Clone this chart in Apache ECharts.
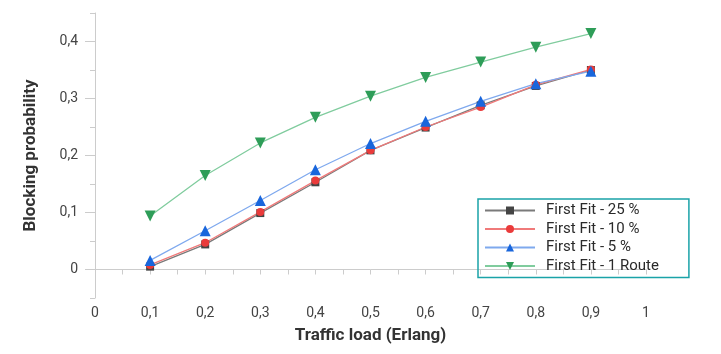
<!DOCTYPE html>
<html>
<head>
<meta charset="utf-8">
<script src="https://cdn.jsdelivr.net/npm/echarts@6/dist/echarts.min.js"></script>
<style>
  html, body { margin: 0; padding: 0; background: #fff; }
  #chart { width: 721px; height: 354px; }
</style>
</head>
<body>
<div id="chart"></div>
<script>
// 数据
var loads = [0.1, 0.2, 0.3, 0.4, 0.5, 0.6, 0.7, 0.8, 0.9];
var ff25 = [0.005, 0.044, 0.099, 0.153, 0.209, 0.249, 0.288, 0.322, 0.350];
var ff10 = [0.008, 0.047, 0.101, 0.156, 0.209, 0.250, 0.285, 0.324, 0.351];
var ff5 = [0.016, 0.068, 0.121, 0.175, 0.221, 0.260, 0.295, 0.326, 0.348];
var ff1route = [0.094, 0.165, 0.222, 0.267, 0.304, 0.337, 0.364, 0.390, 0.414];
var yLabels = [0, 0.1, 0.2, 0.3, 0.4];
var seriesNames = ['First Fit - 25 %', 'First Fit - 10 %', 'First Fit - 5 %', 'First Fit - 1 Route'];

function pairs(ys) {
	return loads.map(function (x, i) { return [x, ys[i]]; });
}

function comma(v) {
	return String(v).replace('.', ',');
}

var myChart = echarts.init(document.getElementById('chart'));

var option = {
	animation: false,
	textStyle: { fontFamily: 'Roboto' },
	grid: { left: 95, right: 75, top: 13, bottom: 56 },
	legend: {
		orient: 'vertical',
		left: 478,
		top: 199,
		padding: [4, 30, 4, 6],
		itemGap: 3.5,
		itemWidth: 50,
		itemHeight: 10,
		borderColor: '#1aa3a8',
		borderWidth: 1.5,
		textStyle: { fontSize: 15, color: '#2a2a2a', padding: [0, 0, 0, 6] },
		data: seriesNames
	},
	xAxis: {
		type: 'value',
		min: 0,
		max: 1,
		interval: 0.05,
		name: 'Traffic load (Erlang)',
		nameLocation: 'middle',
		nameGap: 29,
		nameTextStyle: { fontSize: 17, fontWeight: 'bold', color: '#333' },
		axisLine: { lineStyle: { color: '#ccc' } },
		axisTick: { show: true, length: 5, lineStyle: { color: '#ccc' } },
		splitLine: { show: false },
		axisLabel: {
			color: '#444',
			fontSize: 14,
			margin: 8,
			formatter: function (v) {
				var r = Math.round(v * 100);
				if (r % 10 !== 0) return '';
				return comma(r / 100);
			}
		}
	},
	yAxis: [
		{
			type: 'value',
			min: -0.05,
			max: 0.45,
			name: 'Blocking probability',
			nameLocation: 'middle',
			nameGap: 56,
			nameTextStyle: { fontSize: 17, fontWeight: 'bold', color: '#333' },
			axisLine: { show: true, lineStyle: { color: '#ccc' } },
			axisTick: { show: true, length: 10, customValues: yLabels, lineStyle: { color: '#ccc' } },
			splitLine: { show: false },
			axisLabel: {
				color: '#444',
				fontSize: 14,
				margin: 17,
				customValues: yLabels,
				formatter: function (v) { return comma(v); }
			}
		},
		{
			// 小刻度
			type: 'value',
			min: -0.05,
			max: 0.45,
			interval: 0.05,
			position: 'left',
			axisLine: { show: false },
			axisTick: { show: true, length: 5, lineStyle: { color: '#ccc' } },
			axisLabel: { show: false },
			splitLine: { show: false }
		}
	],
	series: [
		{
			name: seriesNames[0],
			type: 'line',
			data: pairs(ff25),
			symbol: 'rect',
			symbolSize: 8,
			lineStyle: { color: '#7a7a7a', width: 1.3 },
			itemStyle: { color: '#444' }
		},
		{
			name: seriesNames[1],
			type: 'line',
			data: pairs(ff10),
			symbol: 'circle',
			symbolSize: 8,
			lineStyle: { color: '#f07a7a', width: 1.3 },
			itemStyle: { color: '#ea3b3b' }
		},
		{
			name: seriesNames[2],
			type: 'line',
			data: pairs(ff5),
			symbol: 'triangle',
			symbolSize: 11,
			lineStyle: { color: '#7fa9ee', width: 1.3 },
			itemStyle: { color: '#1966dc' }
		},
		{
			name: seriesNames[3],
			type: 'line',
			data: pairs(ff1route),
			symbol: 'triangle',
			symbolRotate: 180,
			symbolSize: 11,
			lineStyle: { color: '#80cc9e', width: 1.3 },
			itemStyle: { color: '#2e9d58' }
		}
	]
};

myChart.setOption(option);
</script>
</body>
</html>
